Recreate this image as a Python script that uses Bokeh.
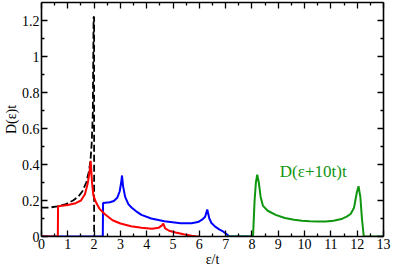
from bokeh.plotting import figure
from bokeh.models import (Range1d, LinearAxis, FixedTicker, CustomJSTickFormatter, Label,
                          CustomLabelingPolicy)
from bokeh.embed import file_html
from bokeh.resources import INLINE

# ---- data ----
x_ticks = [0, 1, 2, 3, 4, 5, 6, 7, 8, 9, 10, 11, 12, 13]
x_minor = [0.5, 1.5, 2.5, 3.5, 4.5, 5.5, 6.5, 7.5, 8.5, 9.5, 10.5, 11.5, 12.5]
y_ticks = [0, 0.2, 0.4, 0.6, 0.8, 1.0, 1.2]
y_tick_labels = ["0", "0.2", "0.4", "0.6", "0.8", "1", "1.2"]
y_minor = [0.1, 0.3, 0.5, 0.7, 0.9, 1.1]

black_x = [0, 0.3, 0.6, 0.9, 1.2, 1.4, 1.55, 1.7, 1.8, 1.86, 1.91, 1.95, 1.98, 2.0, 2.0]
black_y = [0.16, 0.161, 0.167, 0.178, 0.2, 0.222, 0.25, 0.30, 0.36, 0.42, 0.52, 0.68, 1.22, 1.22, 0]

red_x = [0, 0.62, 0.63, 1.0, 1.3, 1.5, 1.65, 1.75, 1.82, 1.87, 1.92, 1.97, 2.07, 2.2, 2.4,
         2.7, 3.0, 3.4, 3.8, 4.2, 4.45, 4.58, 4.63, 4.7, 4.85, 5.1, 5.4, 5.7, 5.9, 6.0]
red_y = [0, 0, 0.168, 0.175, 0.185, 0.2, 0.235, 0.29, 0.35, 0.42, 0.3, 0.23, 0.19, 0.155, 0.125,
         0.09, 0.072, 0.057, 0.048, 0.043, 0.048, 0.062, 0.072, 0.045, 0.032, 0.022, 0.012, 0.004, 0, 0]

blue_x = [0, 2.33, 2.34, 2.6, 2.75, 2.88, 2.97, 3.03, 3.06, 3.1, 3.18, 3.3, 3.43, 3.6, 3.8, 4.17,
          4.67, 5.29, 5.7, 5.95, 6.12, 6.22, 6.3, 6.38, 6.46, 6.6, 6.77, 6.9, 7.02, 7.1, 7.15, 8.0]
blue_y = [0, 0, 0.186, 0.19, 0.197, 0.215, 0.25, 0.3, 0.339, 0.28, 0.22, 0.18, 0.16, 0.14, 0.12, 0.1,
          0.085, 0.073, 0.074, 0.08, 0.095, 0.11, 0.15, 0.1, 0.075, 0.055, 0.038, 0.028, 0.015, 0.005, 0, 0]

green_x = [7.0, 8.04, 8.1, 8.15, 8.2, 8.26, 8.33, 8.42, 8.6, 8.9, 9.25, 9.6, 9.9, 10.2, 10.5, 10.8,
           11.1, 11.4, 11.6, 11.75, 11.88, 11.98, 12.05, 12.12, 12.18, 12.25, 13.0]
green_y = [0, 0, 0.2, 0.3, 0.344, 0.3, 0.22, 0.17, 0.143, 0.12, 0.103, 0.093, 0.088, 0.085, 0.083, 0.084,
           0.088, 0.097, 0.11, 0.125, 0.16, 0.24, 0.279, 0.22, 0.1, 0, 0]

annot_text = "D(ε+10t)t"
annot_x = 9.06
annot_y = 0.362

GREEN = "#0f960f"
FONT = "Liberation Serif"

p = figure(width=391, height=269, x_range=Range1d(0, 13), y_range=Range1d(0, 1.3),
           output_backend="svg", toolbar_location=None,
           min_border_left=10, min_border_right=8, min_border_top=2, min_border_bottom=2,
           x_axis_label="ε/t", y_axis_label="D(ε)t")
p.xgrid.visible = False
p.ygrid.visible = False
p.outline_line_color = None
p.background_fill_color = "white"

xt = FixedTicker(ticks=x_ticks, minor_ticks=x_minor)
yt = FixedTicker(ticks=y_ticks, minor_ticks=y_minor)
yfmt = CustomJSTickFormatter(args=dict(tvals=y_ticks, tlabels=y_tick_labels), code="""
const i = tvals.findIndex(t => Math.abs(t - tick) < 1e-9);
return i >= 0 ? tlabels[i] : '';
""")

def style(ax, show_labels=True):
    ax.axis_line_color = "black"
    ax.axis_line_width = 1.6
    ax.major_tick_line_color = "black"
    ax.minor_tick_line_color = "black"
    ax.major_tick_line_width = 1.3
    ax.minor_tick_line_width = 1.3
    ax.major_tick_in = 6
    ax.major_tick_out = 0
    ax.minor_tick_in = 3
    ax.minor_tick_out = 0
    ax.major_label_text_font = FONT
    ax.axis_label_text_font = FONT
    ax.axis_label_text_font_style = "normal"
    ax.axis_label_text_font_size = "14px"
    ax.axis_label_text_color = "black"
    ax.major_label_text_color = "black"
    if show_labels:
        ax.major_label_text_font_size = "14px"
        ax.major_label_standoff = 2
        ax.axis_label_standoff = 0
    else:
        ax.major_label_text_font_size = "0px"
        ax.major_label_standoff = 0
        ax.major_label_policy = CustomLabelingPolicy(
            code="for (const i of Array.from(indices)) indices.unset(i)")

p.xaxis.ticker = xt
p.yaxis.ticker = yt
p.yaxis.formatter = yfmt
for ax in (p.xaxis[0], p.yaxis[0]):
    style(ax)

top = LinearAxis(ticker=xt)
right = LinearAxis(ticker=yt)
style(top, False)
style(right, False)
p.add_layout(top, "above")
p.add_layout(right, "right")

p.line(black_x, black_y, line_color="black", line_width=1.8, line_dash="7 3")
p.line(blue_x, blue_y, line_color="#0000ff", line_width=2)
p.line(red_x, red_y, line_color="#ff0000", line_width=2)
p.line(green_x, green_y, line_color=GREEN, line_width=2)

p.add_layout(Label(x=annot_x, y=annot_y, text=annot_text, text_color=GREEN,
                   text_font=FONT, text_font_size="17px", text_baseline="alphabetic"))

open("out.html", "w").write(file_html(p, INLINE))
